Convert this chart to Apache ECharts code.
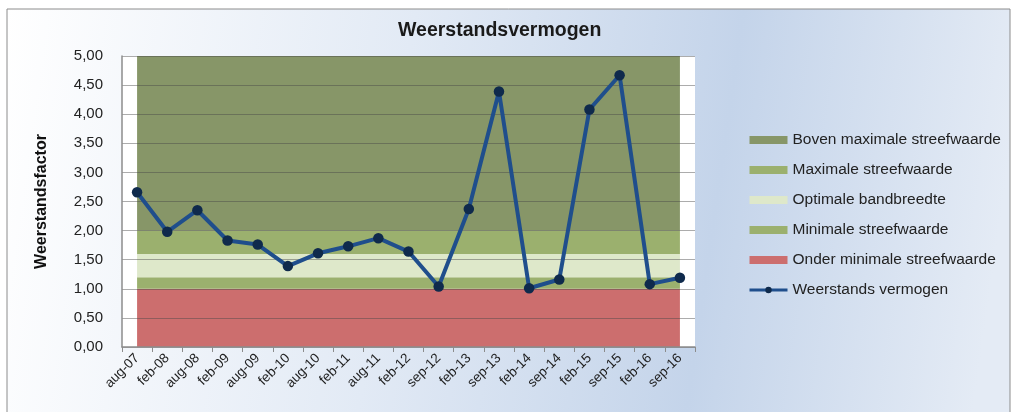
<!DOCTYPE html>
<html>
<head>
<meta charset="utf-8">
<script src="https://cdn.jsdelivr.net/npm/echarts@6/dist/echarts.min.js"></script>
<style>
  html, body { margin: 0; padding: 0; background: #fff; }
  #chart { width: 1014px; height: 412px; }
</style>
</head>
<body>
<div id="chart"></div>
<script>
// ----- data -----
const categories = ['aug-07', 'feb-08', 'aug-08', 'feb-09', 'aug-09', 'feb-10', 'aug-10', 'feb-11', 'aug-11', 'feb-12',
                    'sep-12', 'feb-13', 'sep-13', 'feb-14', 'sep-14', 'feb-15', 'sep-15', 'feb-16', 'sep-16'];
const weerstand = [2.66, 1.98, 2.35, 1.83, 1.76, 1.39, 1.61, 1.73, 1.87, 1.64,
                   1.04, 2.37, 4.39, 1.01, 1.16, 4.08, 4.67, 1.08, 1.19];

// band thicknesses (stacked, bottom first): 0-1.0, 1.0-1.2, 1.2-1.6, 1.6-2.0, 2.0-5.0
const bandNames = ['Onder minimale streefwaarde', 'Minimale streefwaarde', 'Optimale bandbreedte',
                   'Maximale streefwaarde', 'Boven maximale streefwaarde'];
const bandSizes = [1.0, 0.2, 0.4, 0.4, 3.0];
const bandColors = ['#CC6E6E', '#9BB06E', '#DEE8CA', '#9BB06E', '#879668'];
const lineName = 'Weerstands vermogen';

const yTicks = { min: 0, max: 5, interval: 0.5 };
const font = 'Liberation Sans, Arial, sans-serif';

const bandSeries = bandNames.map((name, i) => ({
    name: name,
    type: 'line',
    stack: 'band',
    z: 1,
    symbol: 'none',
    silent: true,
    lineStyle: { width: 0 },
    itemStyle: { color: bandColors[i] },
    areaStyle: { color: bandColors[i], opacity: 1 },
    data: categories.map(() => bandSizes[i])
}));

const chart = echarts.init(document.getElementById('chart'));
chart.setOption({
    animation: false,
    graphic: [{
        type: 'rect',
        z: -10,
        silent: true,
        shape: { x: 7, y: 9, width: 1003, height: 410 },
        style: {
            fill: new echarts.graphic.LinearGradient(0, 0, 1, 0.35, [
                { offset: 0, color: '#ffffff' },
                { offset: 0.4, color: '#e2eaf5' },
                { offset: 0.72, color: '#c4d4ea' },
                { offset: 1, color: '#e4ebf5' }
            ]),
            stroke: '#8c8c8c',
            lineWidth: 1
        }
    }],
    title: {
        text: 'Weerstandsvermogen',
        left: 398,
        top: 21,
        padding: 0,
        textStyle: { fontFamily: font, fontSize: 19.5, fontWeight: 'bold', color: '#1a1a1a' }
    },
    legend: {
        orient: 'vertical',
        left: 748,
        top: 132,
        padding: 0,
        itemWidth: 38,
        itemHeight: 8,
        itemGap: 14,
        textStyle: { fontFamily: font, fontSize: 15.5, color: '#222' },
        data: [
            { name: bandNames[4], icon: 'rect' },
            { name: bandNames[3], icon: 'rect' },
            { name: bandNames[2], icon: 'rect' },
            { name: bandNames[1], icon: 'rect' },
            { name: bandNames[0], icon: 'rect' },
            { name: lineName, lineStyle: { width: 3 } }
        ]
    },
    grid: {
        left: 122,
        top: 56,
        right: 319,
        bottom: 65,
        show: true,
        backgroundColor: '#ffffff',
        borderWidth: 0
    },
    xAxis: {
        type: 'category',
        data: categories,
        boundaryGap: true,
        z: 3,
        axisLine: { lineStyle: { color: '#8c8c8c', width: 1.5 } },
        axisTick: { show: true, length: 5, lineStyle: { color: '#8c8c8c' } },
        axisLabel: {
            rotate: 45,
            interval: 0,
            margin: 9,
            fontFamily: font,
            fontSize: 13.5,
            color: '#222'
        }
    },
    yAxis: {
        type: 'value',
        min: yTicks.min,
        max: yTicks.max,
        interval: yTicks.interval,
        z: 3,
        name: 'Weerstandsfactor',
        nameLocation: 'middle',
        nameGap: 72,
        nameRotate: 90,
        nameTextStyle: { fontFamily: font, fontSize: 16, fontWeight: 'bold', color: '#111' },
        axisLine: { show: true, lineStyle: { color: '#8c8c8c', width: 1.5 } },
        axisTick: { show: false },
        splitLine: { lineStyle: { color: 'rgba(70,70,70,0.45)', width: 1.2 } },
        axisLabel: {
            margin: 19,
            fontFamily: font,
            fontSize: 15,
            color: '#222',
            formatter: v => v.toFixed(2).replace('.', ',')
        }
    },
    series: bandSeries.concat([{
        name: lineName,
        type: 'line',
        z: 5,
        symbol: 'circle',
        symbolSize: 10.5,
        lineStyle: { color: '#1F4E8C', width: 4 },
        itemStyle: { color: '#0F2A4C' },
        data: weerstand
    }])
});
</script>
</body>
</html>
